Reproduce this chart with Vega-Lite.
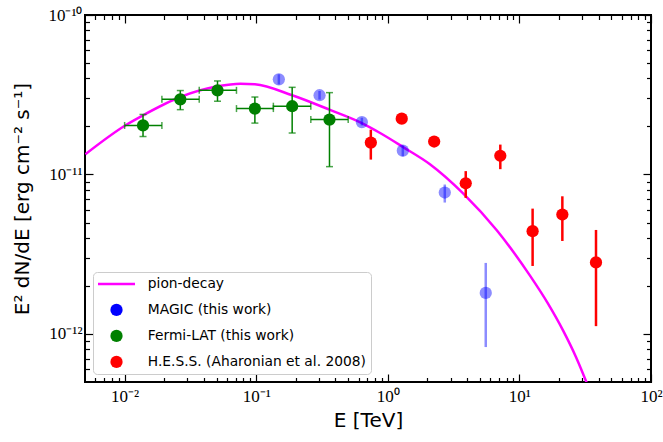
{
  "$schema": "https://vega.github.io/schema/vega-lite/v6.json",
  "width": 566,
  "height": 367,
  "autosize": {"type": "none"},
  "padding": {"left": 85, "top": 15, "right": 12, "bottom": 60},
  "background": "white",
  "datasets": {
    "pion": [
      {"series": "pion-decay", "E": 0.00503, "F": 1.34e-11},
      {"series": "pion-decay", "E": 0.0101, "F": 2.03e-11},
      {"series": "pion-decay", "E": 0.0138, "F": 2.35e-11},
      {"series": "pion-decay", "E": 0.0265, "F": 3.06e-11},
      {"series": "pion-decay", "E": 0.0508, "F": 3.57e-11},
      {"series": "pion-decay", "E": 0.0757, "F": 3.71e-11},
      {"series": "pion-decay", "E": 0.0977, "F": 3.68e-11},
      {"series": "pion-decay", "E": 0.1876, "F": 3.14e-11},
      {"series": "pion-decay", "E": 0.36, "F": 2.55e-11},
      {"series": "pion-decay", "E": 0.635, "F": 2.1e-11},
      {"series": "pion-decay", "E": 0.874, "F": 1.82e-11},
      {"series": "pion-decay", "E": 1.3, "F": 1.49e-11},
      {"series": "pion-decay", "E": 2.09, "F": 1.16e-11},
      {"series": "pion-decay", "E": 3.75, "F": 7.59e-12},
      {"series": "pion-decay", "E": 6.73, "F": 4.47e-12},
      {"series": "pion-decay", "E": 12.0, "F": 2.33e-12},
      {"series": "pion-decay", "E": 16.5, "F": 1.55e-12},
      {"series": "pion-decay", "E": 21.5, "F": 1.05e-12},
      {"series": "pion-decay", "E": 26.9, "F": 7.18e-13},
      {"series": "pion-decay", "E": 32.4, "F": 4.96e-13},
      {"series": "pion-decay", "E": 35.6, "F": 4.06e-13}
    ],
    "pts": [
      {"series": "MAGIC (this work)", "E": 0.1486, "F": 3.95e-11, "ylo": 3.67e-11, "yhi": 4.25e-11},
      {"series": "MAGIC (this work)", "E": 0.303, "F": 3.14e-11, "ylo": 2.95e-11, "yhi": 3.34e-11},
      {"series": "MAGIC (this work)", "E": 0.635, "F": 2.13e-11, "ylo": 2.03e-11, "yhi": 2.27e-11},
      {"series": "MAGIC (this work)", "E": 1.3, "F": 1.41e-11, "ylo": 1.3e-11, "yhi": 1.52e-11},
      {"series": "MAGIC (this work)", "E": 2.71, "F": 7.71e-12, "ylo": 6.67e-12, "yhi": 8.65e-12},
      {"series": "MAGIC (this work)", "E": 5.55, "F": 1.81e-12, "ylo": 8.28e-13, "yhi": 2.79e-12},
      {"series": "Fermi-LAT (this work)", "E": 0.0138, "F": 2.03e-11, "xlo": 0.01, "xhi": 0.0192, "ylo": 1.73e-11, "yhi": 2.38e-11},
      {"series": "Fermi-LAT (this work)", "E": 0.0265, "F": 2.96e-11, "xlo": 0.0192, "xhi": 0.0369, "ylo": 2.55e-11, "yhi": 3.36e-11},
      {"series": "Fermi-LAT (this work)", "E": 0.0508, "F": 3.37e-11, "xlo": 0.0369, "xhi": 0.0708, "ylo": 2.88e-11, "yhi": 3.86e-11},
      {"series": "Fermi-LAT (this work)", "E": 0.0977, "F": 2.59e-11, "xlo": 0.0708, "xhi": 0.135, "ylo": 2.1e-11, "yhi": 3.06e-11},
      {"series": "Fermi-LAT (this work)", "E": 0.1876, "F": 2.68e-11, "xlo": 0.135, "xhi": 0.26, "ylo": 1.82e-11, "yhi": 3.52e-11},
      {"series": "Fermi-LAT (this work)", "E": 0.3604, "F": 2.21e-11, "xlo": 0.26, "xhi": 0.5, "ylo": 1.12e-11, "yhi": 3.26e-11},
      {"series": "H.E.S.S. (Aharonian et al. 2008)", "E": 0.743, "F": 1.585e-11, "ylo": 1.24e-11, "yhi": 1.91e-11},
      {"series": "H.E.S.S. (Aharonian et al. 2008)", "E": 1.276, "F": 2.24e-11, "ylo": 2.1e-11, "yhi": 2.38e-11},
      {"series": "H.E.S.S. (Aharonian et al. 2008)", "E": 2.25, "F": 1.61e-11, "ylo": 1.52e-11, "yhi": 1.7e-11},
      {"series": "H.E.S.S. (Aharonian et al. 2008)", "E": 3.91, "F": 8.81e-12, "ylo": 7.13e-12, "yhi": 1.05e-11},
      {"series": "H.E.S.S. (Aharonian et al. 2008)", "E": 7.16, "F": 1.31e-11, "ylo": 1.08e-11, "yhi": 1.54e-11},
      {"series": "H.E.S.S. (Aharonian et al. 2008)", "E": 12.6, "F": 4.41e-12, "ylo": 2.67e-12, "yhi": 6.11e-12},
      {"series": "H.E.S.S. (Aharonian et al. 2008)", "E": 21.2, "F": 5.61e-12, "ylo": 3.83e-12, "yhi": 7.3e-12},
      {"series": "H.E.S.S. (Aharonian et al. 2008)", "E": 38.2, "F": 2.81e-12, "ylo": 1.12e-12, "yhi": 4.49e-12}
    ]
  },
  "layer": [
    {
      "data": {"name": "pion"},
      "mark": {"type": "line", "strokeWidth": 2.5, "interpolate": "monotone", "clip": true},
      "encoding": {
        "x": {"field": "E", "type": "quantitative",
          "scale": {"type": "log", "domain": [0.005, 100]},
          "axis": {"orient": "bottom", "values": [0.01, 0.1, 1, 10, 100], "tickSize": -8,
            "labelExpr": "'10' + ['⁻²','⁻¹','⁰','¹','²'][round(log(datum.value)/LN10)+2]",
            "labelFont": "Liberation Serif", "labelFontSize": 17, "labelPadding": 14,
            "labelOverlap": false, "labelFlush": false,
            "title": "E [TeV]", "titleFont": "DejaVu Sans", "titleFontSize": 20, "titleFontWeight": "normal", "titlePadding": 6}},
        "y": {"field": "F", "type": "quantitative",
          "scale": {"type": "log", "domain": [5e-13, 1e-10]},
          "axis": {"orient": "left", "values": [1e-12, 1e-11, 1e-10], "tickSize": -8,
            "labelExpr": "'10' + ['⁻¹²','⁻¹¹','⁻¹⁰'][round(log(datum.value)/LN10)+12]",
            "labelFont": "Liberation Serif", "labelFontSize": 17, "labelPadding": 11,
            "labelOverlap": false, "labelFlush": false,
            "title": "E² dN/dE [erg cm⁻² s⁻¹]", "titleFont": "DejaVu Sans", "titleFontSize": 20, "titleFontWeight": "normal",
            "titleX": -57, "titleBaseline": "alphabetic"}},
        "color": {"field": "series", "type": "nominal",
          "scale": {"domain": ["pion-decay", "MAGIC (this work)", "Fermi-LAT (this work)", "H.E.S.S. (Aharonian et al. 2008)"],
                    "range": ["#ff00ff", "#0000ff", "#008000", "#ff0000"]},
          "legend": {"title": null, "orient": "bottom-left", "offset": 8, "padding": 5,
            "strokeColor": "#cccccc", "fillColor": "rgba(255,255,255,0.8)", "cornerRadius": 4,
            "labelFont": "DejaVu Sans", "labelFontSize": 13.8, "labelColor": "black", "labelLimit": 400,
            "symbolSize": 150, "rowPadding": 11, "labelOffset": 36,
            "encode": {"symbols": {"update": {
              "x": {"value": 18.5},
              "shape": {"signal": "(datum.value == 'pion-decay' ? 'stroke' : 'circle')"},
              "size": {"signal": "(datum.value == 'pion-decay' ? 1369 : 150)"},
              "fill": {"signal": "(datum.value == 'pion-decay' ? 'transparent' : scale('color', datum.value))"},
              "stroke": {"signal": "scale('color', datum.value)"},
              "strokeWidth": {"signal": "(datum.value == 'pion-decay' ? 2.5 : 0)"},
              "opacity": {"value": 1}
            }}}}}
      }
    },
    {
      "data": {"name": "pts"},
      "transform": [{"filter": "datum.series == 'Fermi-LAT (this work)'"}],
      "mark": {"type": "rule", "strokeWidth": 1.5},
      "encoding": {
        "x": {"field": "xlo", "type": "quantitative", "scale": {"type": "log", "domain": [0.005, 100]},
          "axis": {"orient": "bottom", "values": [0.006, 0.007, 0.008, 0.009, 0.02, 0.03, 0.04, 0.05, 0.06, 0.07, 0.08, 0.09, 0.2, 0.3, 0.4, 0.5, 0.6, 0.7, 0.8, 0.9, 2, 3, 4, 5, 6, 7, 8, 9, 20, 30, 40, 50, 60, 70, 80, 90],
            "tickSize": -4.5, "labels": false, "title": null}},
        "x2": {"field": "xhi"},
        "y": {"field": "F", "type": "quantitative", "scale": {"type": "log", "domain": [5e-13, 1e-10]},
          "axis": {"orient": "left", "values": [6e-13, 7e-13, 8e-13, 9e-13, 2e-12, 3e-12, 4e-12, 5e-12, 6e-12, 7e-12, 8e-12, 9e-12, 2e-11, 3e-11, 4e-11, 5e-11, 6e-11, 7e-11, 8e-11, 9e-11],
            "tickSize": -4.5, "labels": false, "title": null}},
        "color": {"field": "series", "type": "nominal", "legend": null}
      }
    },
    {
      "data": {"name": "pts"},
      "mark": {"type": "rule"},
      "encoding": {
        "x": {"field": "E", "type": "quantitative", "scale": {"type": "log", "domain": [0.005, 100]},
          "axis": {"orient": "top", "values": [0.01, 0.1, 1, 10, 100], "tickSize": -8, "labels": false, "title": null}},
        "y": {"field": "ylo", "type": "quantitative", "scale": {"type": "log", "domain": [5e-13, 1e-10]},
          "axis": {"orient": "right", "values": [1e-12, 1e-11, 1e-10], "tickSize": -8, "labels": false, "title": null}},
        "y2": {"field": "yhi"},
        "color": {"field": "series", "type": "nominal", "legend": null},
        "opacity": {"condition": {"test": "datum.series == 'MAGIC (this work)'", "value": 0.45}, "value": 1},
        "strokeWidth": {"condition": {"test": "datum.series == 'Fermi-LAT (this work)'", "value": 1.5}, "value": 2.5}
      }
    },
    {
      "data": {"name": "pts"},
      "mark": {"type": "point", "filled": true, "size": 150, "strokeWidth": 0},
      "encoding": {
        "x": {"field": "E", "type": "quantitative", "scale": {"type": "log", "domain": [0.005, 100]},
          "axis": {"orient": "top", "values": [0.006, 0.007, 0.008, 0.009, 0.02, 0.03, 0.04, 0.05, 0.06, 0.07, 0.08, 0.09, 0.2, 0.3, 0.4, 0.5, 0.6, 0.7, 0.8, 0.9, 2, 3, 4, 5, 6, 7, 8, 9, 20, 30, 40, 50, 60, 70, 80, 90],
            "tickSize": -4.5, "labels": false, "title": null}},
        "y": {"field": "F", "type": "quantitative", "scale": {"type": "log", "domain": [5e-13, 1e-10]},
          "axis": {"orient": "right", "values": [6e-13, 7e-13, 8e-13, 9e-13, 2e-12, 3e-12, 4e-12, 5e-12, 6e-12, 7e-12, 8e-12, 9e-12, 2e-11, 3e-11, 4e-11, 5e-11, 6e-11, 7e-11, 8e-11, 9e-11],
            "tickSize": -4.5, "labels": false, "title": null}},
        "color": {"field": "series", "type": "nominal", "legend": null},
        "opacity": {"condition": {"test": "datum.series == 'MAGIC (this work)'", "value": 0.45}, "value": 1}
      }
    },
    {
      "data": {"name": "pts"},
      "transform": [{"filter": "datum.series == 'Fermi-LAT (this work)'"}, {"fold": ["xlo", "xhi"], "as": ["k", "xv"]}],
      "mark": {"type": "tick", "orient": "vertical", "size": 7, "thickness": 1.5, "color": "#008000"},
      "encoding": {
        "x": {"field": "xv", "type": "quantitative", "scale": {"type": "log", "domain": [0.005, 100]}, "axis": null},
        "y": {"field": "F", "type": "quantitative", "scale": {"type": "log", "domain": [5e-13, 1e-10]}, "axis": null}
      }
    },
    {
      "data": {"name": "pts"},
      "transform": [{"filter": "datum.series == 'Fermi-LAT (this work)'"}, {"fold": ["ylo", "yhi"], "as": ["k", "yv"]}],
      "mark": {"type": "tick", "orient": "horizontal", "size": 7, "thickness": 1.5, "color": "#008000"},
      "encoding": {
        "x": {"field": "E", "type": "quantitative", "scale": {"type": "log", "domain": [0.005, 100]}, "axis": null},
        "y": {"field": "yv", "type": "quantitative", "scale": {"type": "log", "domain": [5e-13, 1e-10]}, "axis": null}
      }
    }
  ],
  "resolve": {"axis": {"x": "independent", "y": "independent"}},
  "config": {
    "view": {"stroke": "black", "strokeWidth": 2},
    "axis": {"grid": false, "domain": false, "tickColor": "black", "tickWidth": 1.2, "labelColor": "black", "titleColor": "black"}
  }
}
